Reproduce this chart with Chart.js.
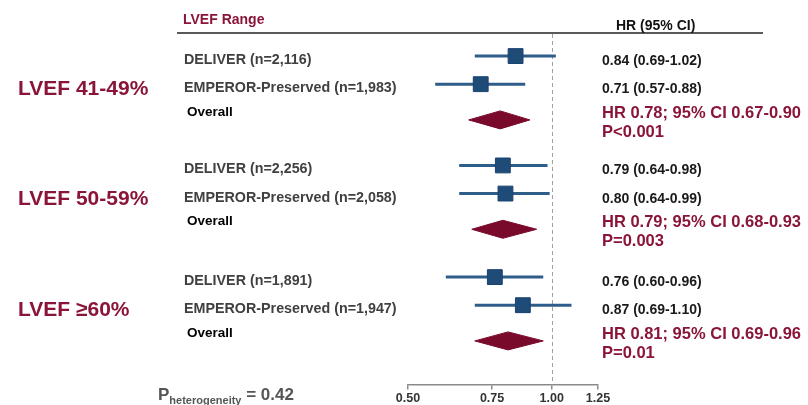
<!DOCTYPE html>
<html><head><meta charset="utf-8">
<script src="https://cdn.jsdelivr.net/npm/chart.js@4"></script>
<style>html,body{margin:0;padding:0;background:#fff}#wrap{position:relative;width:808px;height:405px}</style>
</head><body><div id="wrap"><canvas id="c" width="808" height="405"></canvas></div>
<script>
// ---------- data ----------
const groupLabels = ['LVEF 41-49%', 'LVEF 50-59%', 'LVEF \u226560%'];
const studyNames = ['DELIVER (n=2,116)', 'EMPEROR-Preserved (n=1,983)',
                    'DELIVER (n=2,256)', 'EMPEROR-Preserved (n=2,058)',
                    'DELIVER (n=1,891)', 'EMPEROR-Preserved (n=1,947)'];
const studyHR = [0.84, 0.71, 0.79, 0.80, 0.76, 0.87];
const studyLo = [0.69, 0.57, 0.64, 0.64, 0.60, 0.69];
const studyHi = [1.02, 0.88, 0.98, 0.99, 0.96, 1.10];
const overallHR = [0.78, 0.79, 0.81];
const overallLo = [0.67, 0.68, 0.69];
const overallHi = [0.90, 0.93, 0.96];
const overallP = ['P<0.001', 'P=0.003', 'P=0.01'];
const xTicks = [0.50, 0.75, 1.00, 1.25];
const pHeterogeneity = '0.42';

// ---------- layout (row units on hidden y scale) ----------
const groupStart = [0.82, 4.71, 8.68];
const overallOffset = 2.27;
const DIAMOND_HALF = 0.32;
const studyRow = i => groupStart[Math.floor(i / 2)] + (i % 2);
const overallRow = g => groupStart[g] + overallOffset;

const FONT = '"Liberation Sans", Arial, Helvetica, sans-serif';
const CRIMSON = '#8a1538';
const DIAMOND = '#7a0a2c';
const SQUARE = '#1f4b78';
const CILINE = '#2f5d8a';

const datasets = [];
studyHR.forEach((v, i) => {
  const y = studyRow(i);
  datasets.push({data: [{x: studyLo[i], y}, {x: studyHi[i], y}], showLine: true,
    borderColor: CILINE, borderWidth: 3, pointRadius: 0, order: 3});
});
datasets.push({data: studyHR.map((v, i) => ({x: v, y: studyRow(i)})), pointStyle: 'rect',
  pointRadius: 10.5, backgroundColor: SQUARE, borderColor: '#1a4270', borderWidth: 1,
  showLine: false, order: 1});
overallHR.forEach((v, g) => {
  const y = overallRow(g);
  datasets.push({data: [{x: overallLo[g], y}, {x: v, y: y - DIAMOND_HALF}, {x: overallHi[g], y},
    {x: v, y: y + DIAMOND_HALF}, {x: overallLo[g], y}],
    showLine: true, fill: 'shape', backgroundColor: DIAMOND, borderColor: DIAMOND,
    borderWidth: 1, pointRadius: 0, tension: 0, order: 2});
});

const decor = {
  id: 'decor',
  beforeDatasetsDraw(chart) {
    const ctx = chart.ctx, xs = chart.scales.x, area = chart.chartArea;
    ctx.save();
    ctx.strokeStyle = '#5a5a5a'; ctx.lineWidth = 2;
    ctx.beginPath(); ctx.moveTo(177, 33); ctx.lineTo(763, 33); ctx.stroke();
    const x1 = Math.round(xs.getPixelForValue(1)) + 0.5;
    ctx.strokeStyle = '#a0a0a0'; ctx.lineWidth = 1; ctx.setLineDash([4, 3]);
    ctx.beginPath(); ctx.moveTo(x1, 34); ctx.lineTo(x1, area.bottom); ctx.stroke();
    ctx.restore();
  },
  afterDraw(chart) {
    const ctx = chart.ctx, ys = chart.scales.y;
    const py = v => ys.getPixelForValue(v);
    ctx.save();
    ctx.textBaseline = 'alphabetic'; ctx.textAlign = 'left';
    ctx.font = 'bold 14px ' + FONT; ctx.fillStyle = CRIMSON;
    ctx.fillText('LVEF Range', 183, 24);
    ctx.fillStyle = '#111';
    ctx.fillText('HR (95% CI)', 616, 30);
    groupLabels.forEach((t, g) => {
      ctx.font = 'bold 21px ' + FONT; ctx.fillStyle = CRIMSON;
      ctx.fillText(t, 18, py(groupStart[g] + 1) + 11);
      const oy = py(overallRow(g));
      ctx.font = 'bold 13.5px ' + FONT; ctx.fillStyle = '#000';
      ctx.fillText('Overall', 187, oy - 4);
      ctx.font = 'bold 16.5px ' + FONT; ctx.fillStyle = CRIMSON;
      ctx.fillText('HR ' + overallHR[g].toFixed(2) + '; 95% CI ' + overallLo[g].toFixed(2) + '-' + overallHi[g].toFixed(2), 602, oy - 2);
      ctx.fillText(overallP[g], 602, oy + 17);
    });
    studyNames.forEach((t, i) => {
      const y = py(studyRow(i));
      ctx.font = 'bold 14.3px ' + FONT; ctx.fillStyle = '#404040';
      ctx.fillText(t, 184, y + 8);
      ctx.fillStyle = '#1a1a1a'; ctx.font = 'bold 14px ' + FONT;
      ctx.fillText(studyHR[i].toFixed(2) + ' (' + studyLo[i].toFixed(2) + '-' + studyHi[i].toFixed(2) + ')', 602, y + 9);
    });
    ctx.fillStyle = '#555';
    let x = 158;
    ctx.font = 'bold 17px ' + FONT; ctx.fillText('P', x, 400); x += ctx.measureText('P').width;
    ctx.font = 'bold 11px ' + FONT; ctx.fillText('heterogeneity', x, 404); x += ctx.measureText('heterogeneity').width;
    ctx.font = 'bold 17px ' + FONT; ctx.fillText(' = ' + pHeterogeneity, x, 400);
    ctx.restore();
  }
};

new Chart(document.getElementById('c'), {
  type: 'scatter',
  data: {datasets},
  options: {
    responsive: false, animation: false, devicePixelRatio: 1, events: [],
    layout: {padding: {left: 408, right: 210, top: 33, bottom: -3}},
    plugins: {legend: {display: false}, tooltip: {enabled: false}},
    scales: {
      x: {type: 'logarithmic', min: 0.5, max: 1.25, position: 'bottom',
        afterBuildTicks: s => { s.ticks = xTicks.map(v => ({value: v})); },
        ticks: {autoSkip: false, maxRotation: 0, padding: 3, color: '#333',
          font: {family: FONT, size: 12.5, weight: 'bold', lineHeight: 1.0},
          callback: v => Number(v).toFixed(2)},
        grid: {display: true, drawOnChartArea: false, drawTicks: true, tickLength: 5, color: '#8a8a8a', lineWidth: 1.5},
        border: {display: true, color: '#8a8a8a', width: 1.5}
      },
      y: {type: 'linear', min: 0, max: 12.5, reverse: true, display: false}
    }
  },
  plugins: [decor]
});
</script>
</body></html>
